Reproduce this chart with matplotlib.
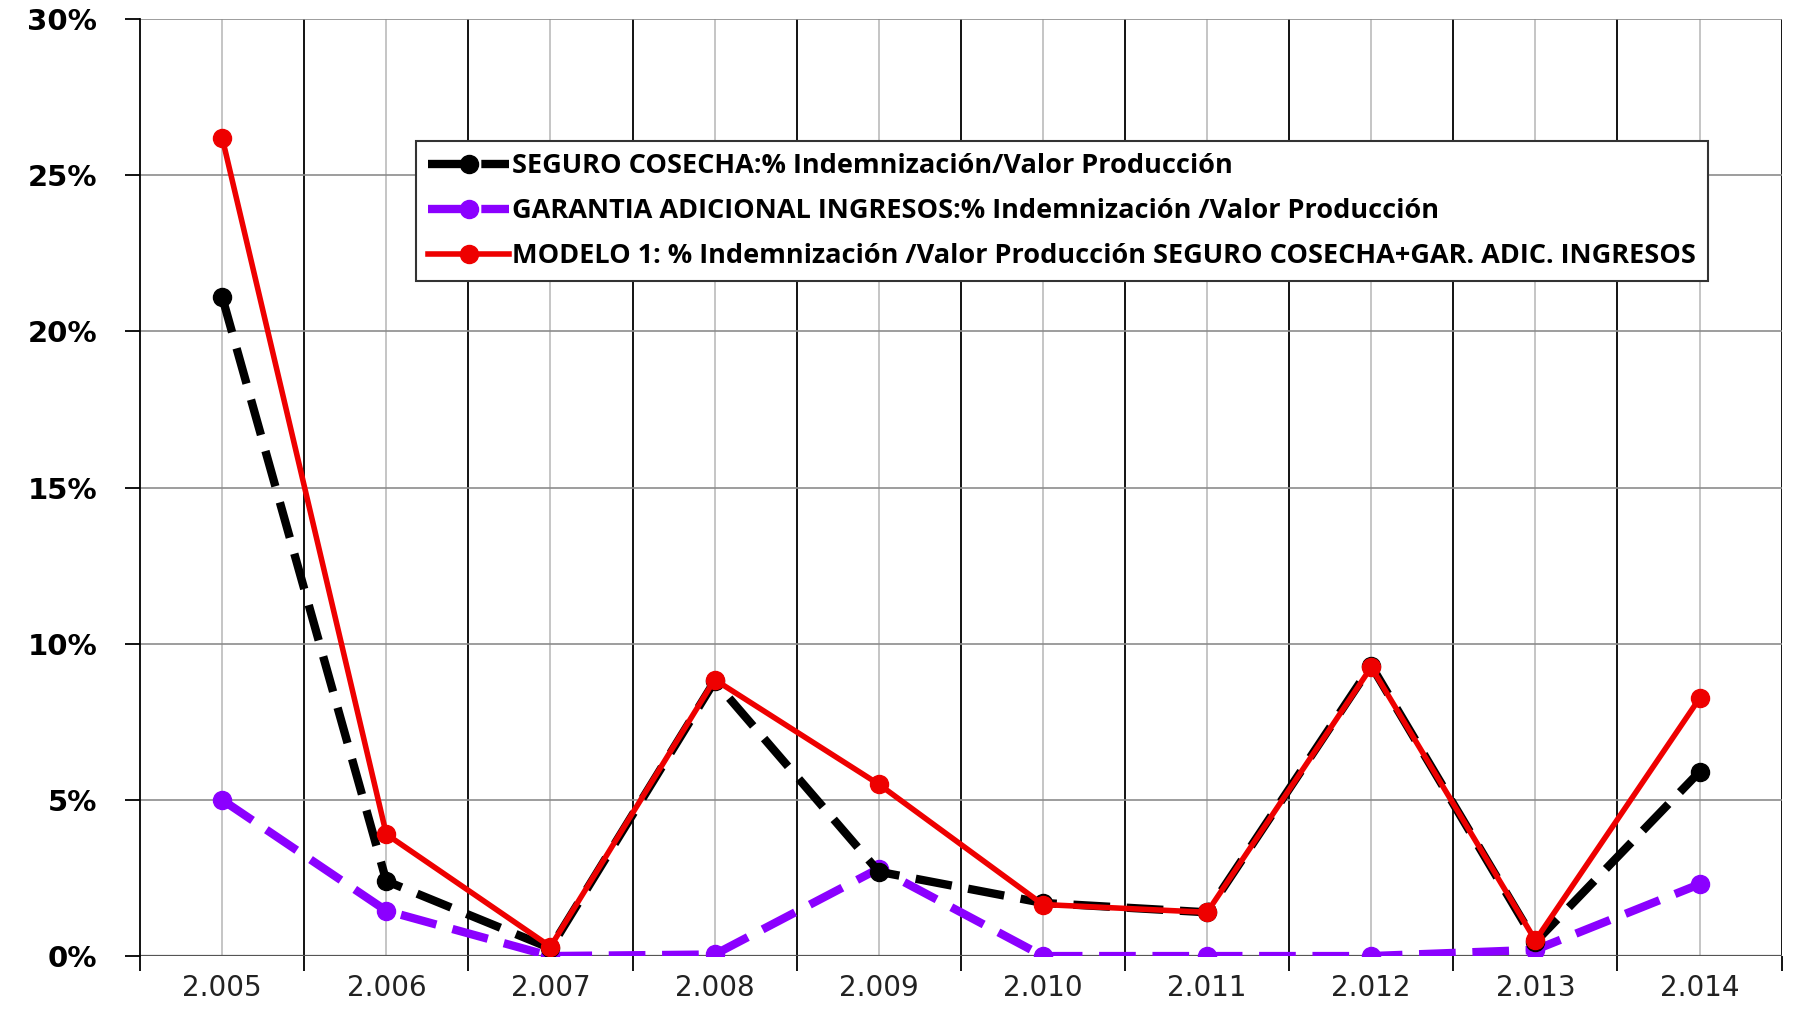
"""
plot.py
Indemnizacion / Valor Produccion: seguro cosecha, garantia adicional ingresos y modelo 1.
Output: out.png
"""

import matplotlib
matplotlib.use("Agg")
import matplotlib.pyplot as plt
from matplotlib.ticker import FuncFormatter, FixedLocator

# Datos (porcentaje)
anios = ["2.005", "2.006", "2.007", "2.008", "2.009",
         "2.010", "2.011", "2.012", "2.013", "2.014"]
seguro_cosecha = [21.1, 2.4, 0.25, 8.8, 2.7, 1.7, 1.4, 9.3, 0.45, 5.9]
garantia_ingresos = [5.0, 1.45, 0.0, 0.05, 2.8, 0.0, 0.0, 0.0, 0.2, 2.3]
modelo_1 = [26.2, 3.9, 0.3, 8.85, 5.5, 1.65, 1.4, 9.25, 0.5, 8.25]

etiquetas = [
    "SEGURO COSECHA:% Indemnización/Valor Producción",
    "GARANTIA ADICIONAL INGRESOS:% Indemnización /Valor Producción",
    "MODELO 1: % Indemnización /Valor Producción SEGURO COSECHA+GAR. ADIC. INGRESOS",
]

NEGRO = "#000000"
MORADO = "#8B00FF"
ROJO = "#EE0000"


def main():
    fig = plt.figure(figsize=(17.96, 10.32), dpi=100)
    ax = fig.add_axes([0.078, 0.0736, 0.914, 0.908])

    x = list(range(len(anios)))

    # grid: lineas grises en centros, negras en limites de categoria
    for xi in x:
        ax.axvline(xi, color="#bbbbbb", lw=1.2, zorder=0)
    for xi in [i + 0.5 for i in x]:
        ax.axvline(xi, color="black", lw=1.3, zorder=0)
    for yv in [5, 10, 15, 20, 25, 30]:
        ax.axhline(yv, color="#8c8c8c", lw=1.2, zorder=0)
    ax.axhline(0, color="#555555", lw=1.6, zorder=1)

    ax.plot(x, seguro_cosecha, color=NEGRO, lw=6, ls=(0, (4.4, 2.0)),
            marker="o", ms=13, label=etiquetas[0], zorder=3)
    ax.plot(x, garantia_ingresos, color=MORADO, lw=6, ls=(0, (4.4, 2.0)),
            marker="o", ms=13, label=etiquetas[1], zorder=2)
    ax.plot(x, modelo_1, color=ROJO, lw=4, ls="-",
            marker="o", ms=13, label=etiquetas[2], zorder=4)

    ax.set_xlim(-0.5, 9.5)
    ax.set_ylim(0, 30)

    ax.xaxis.set_major_locator(FixedLocator([i - 0.5 for i in range(11)]))
    ax.xaxis.set_minor_locator(FixedLocator(x))
    ax.set_xticklabels([])
    ax.set_xticklabels(anios, minor=True)
    ax.tick_params(axis="x", which="major", length=11, width=1.3, color="black")
    ax.tick_params(axis="x", which="minor", length=0, pad=13,
                   labelsize=20, labelcolor="#222222")

    ax.set_yticks([0, 5, 10, 15, 20, 25, 30])
    ax.yaxis.set_major_formatter(FuncFormatter(lambda v, p: f"{v:.0f}%"))
    ax.tick_params(axis="y", length=11, width=1.3, pad=20, labelsize=21)
    for lab in ax.get_yticklabels():
        lab.set_fontweight("bold")

    ax.spines["top"].set_visible(False)
    ax.spines["right"].set_visible(False)
    ax.spines["bottom"].set_visible(False)
    ax.spines["left"].set_linewidth(1.3)

    leg = ax.legend(loc="upper left", bbox_to_anchor=(416 / 1796, 1 - 141 / 1032),
                    bbox_transform=fig.transFigure, fancybox=False, framealpha=1,
                    edgecolor="#333333", handlelength=3.0, handletextpad=0.1,
                    labelspacing=0.7, borderpad=0.45, borderaxespad=0,
                    numpoints=1,
                    prop={"family": "Open Sans", "weight": "bold", "size": 19.5})
    leg.get_frame().set_linewidth(1.5)
    leg.set_zorder(10)

    fig.savefig("out.png", dpi=100)
    plt.close(fig)


if __name__ == "__main__":
    main()
